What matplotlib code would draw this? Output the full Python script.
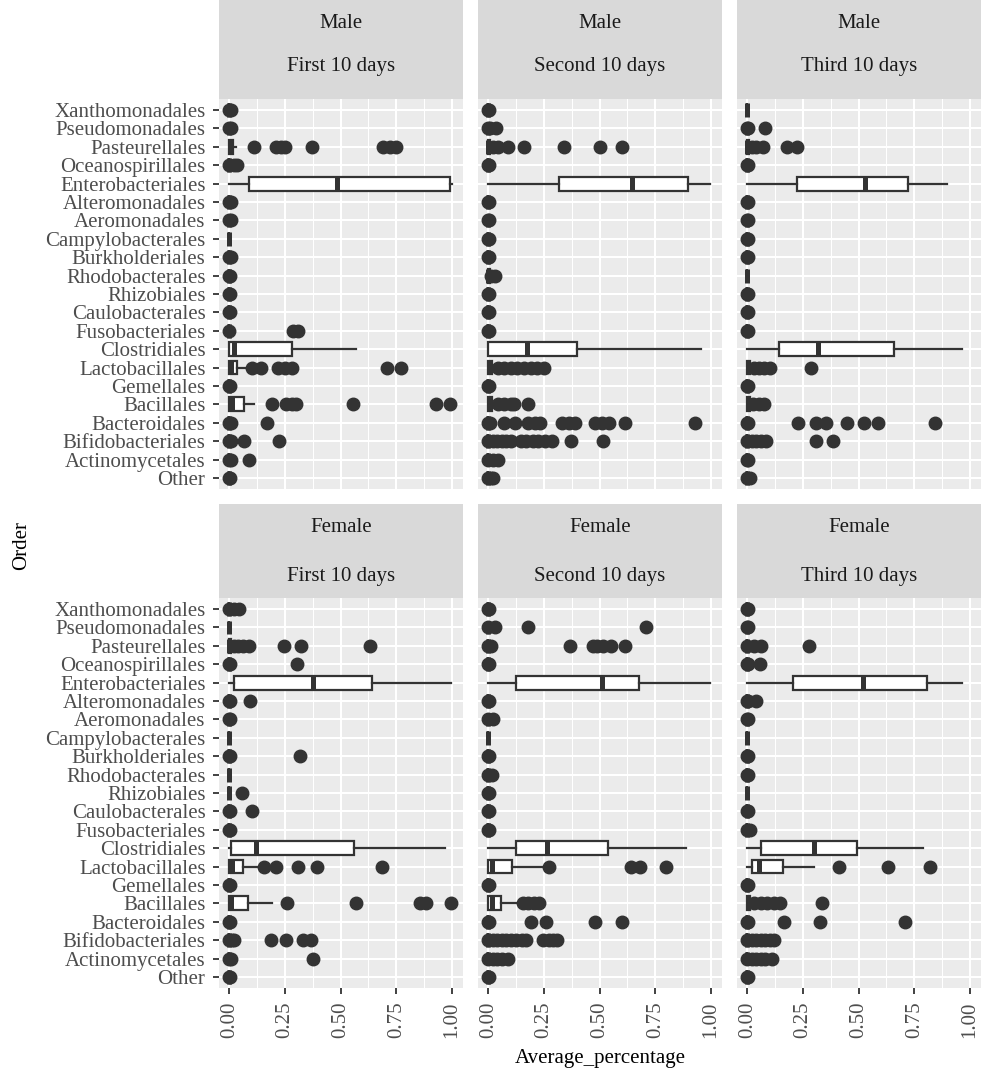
import matplotlib.pyplot as plt
from matplotlib.ticker import MultipleLocator

plt.rcParams['font.family'] = ['Liberation Serif', 'DejaVu Serif']

orders = ['Xanthomonadales', 'Pseudomonadales', 'Pasteurellales', 'Oceanospirillales',
          'Enterobacteriales', 'Alteromonadales', 'Aeromonadales', 'Campylobacterales',
          'Burkholderiales', 'Rhodobacterales', 'Rhizobiales', 'Caulobacterales',
          'Fusobacteriales', 'Clostridiales', 'Lactobacillales', 'Gemellales',
          'Bacillales', 'Bacteroidales', 'Bifidobacteriales', 'Actinomycetales', 'Other']
sexes = ['Male', 'Female']
periods = ['First 10 days', 'Second 10 days', 'Third 10 days']
x_ticks = [0.0, 0.25, 0.5, 0.75, 1.0]

# one row per order: (q1, median, q3, whisker low, whisker high, outliers)
male_first = [
    (0, 0, 0, 0, 0, [0.0, 0.005]),
    (0, 0, 0, 0, 0, [0.0, 0.005]),
    (0, 0.002, 0.015, 0, 0.03, [0.11, 0.21, 0.23, 0.25, 0.37, 0.69, 0.72, 0.75]),
    (0, 0, 0, 0, 0, [0.0, 0.02, 0.035]),
    (0.09, 0.485, 0.99, 0, 1.0, []),
    (0, 0, 0, 0, 0, [0.0, 0.005]),
    (0, 0, 0, 0, 0, [0.0, 0.005]),
    (0, 0, 0, 0, 0, []),
    (0, 0, 0, 0, 0, [0.0, 0.008]),
    (0, 0, 0, 0, 0, [0.0, 0.003]),
    (0, 0, 0, 0, 0, [0.0, 0.003]),
    (0, 0, 0, 0, 0, [0.0, 0.004]),
    (0, 0, 0, 0, 0, [0.0, 0.285, 0.31]),
    (0, 0.02, 0.28, 0, 0.57, []),
    (0, 0.005, 0.035, 0, 0.07, [0.10, 0.14, 0.22, 0.25, 0.28, 0.71, 0.77]),
    (0, 0, 0, 0, 0, [0.0, 0.003]),
    (0, 0.01, 0.065, 0, 0.11, [0.19, 0.255, 0.28, 0.30, 0.555, 0.93, 0.99]),
    (0, 0, 0, 0, 0, [0.0, 0.005, 0.17]),
    (0, 0, 0, 0, 0, [0.0, 0.005, 0.065, 0.225]),
    (0, 0, 0, 0, 0, [0.0, 0.005, 0.09]),
    (0, 0, 0, 0, 0, [0.0, 0.003]),
]
male_second = [
    (0, 0, 0, 0, 0, [0.0, 0.004]),
    (0, 0, 0, 0, 0, [0.0, 0.005, 0.035]),
    (0, 0, 0.005, 0, 0.01, [0.02, 0.045, 0.09, 0.16, 0.34, 0.50, 0.60]),
    (0, 0, 0, 0, 0, [0.0, 0.004]),
    (0.318, 0.646, 0.897, 0, 0.995, []),
    (0, 0, 0, 0, 0, [0.0, 0.004]),
    (0, 0, 0, 0, 0, [0.0, 0.004]),
    (0, 0, 0, 0, 0, [0.0, 0.004]),
    (0, 0, 0, 0, 0, [0.0, 0.004]),
    (0, 0, 0.005, 0, 0.005, [0.01, 0.03]),
    (0, 0, 0, 0, 0, [0.0, 0.004]),
    (0, 0, 0, 0, 0, [0.0, 0.004]),
    (0, 0, 0, 0, 0, [0.0, 0.004]),
    (0, 0.172, 0.40, 0, 0.957, []),
    (0, 0.003, 0.018, 0, 0.03, [0.045, 0.07, 0.10, 0.13, 0.16, 0.19, 0.22, 0.25]),
    (0, 0, 0, 0, 0, [0.0, 0.004]),
    (0, 0.002, 0.015, 0, 0.03, [0.045, 0.07, 0.10, 0.115, 0.177]),
    (0, 0, 0, 0, 0, [0.0, 0.005, 0.07, 0.12, 0.18, 0.21, 0.23, 0.33, 0.36, 0.39,
                     0.48, 0.51, 0.54, 0.615, 0.93]),
    (0, 0, 0, 0, 0, [0.0, 0.02, 0.04, 0.06, 0.08, 0.10, 0.146, 0.17, 0.20, 0.225,
                     0.254, 0.285, 0.37, 0.515]),
    (0, 0, 0, 0, 0, [0.0, 0.02, 0.045]),
    (0, 0, 0, 0, 0, [0.0, 0.01, 0.02]),
]
male_third = [
    (0, 0, 0, 0, 0, []),
    (0, 0, 0, 0, 0, [0.0, 0.004, 0.08]),
    (0, 0, 0.005, 0, 0.01, [0.02, 0.04, 0.07, 0.18, 0.225]),
    (0, 0, 0, 0, 0, [0.0, 0.004]),
    (0.223, 0.53, 0.72, 0, 0.895, []),
    (0, 0, 0, 0, 0, [0.0, 0.004]),
    (0, 0, 0, 0, 0, [0.0, 0.004]),
    (0, 0, 0, 0, 0, [0.0, 0.004]),
    (0, 0, 0, 0, 0, [0.0, 0.004]),
    (0, 0, 0, 0, 0, []),
    (0, 0, 0, 0, 0, [0.0, 0.004]),
    (0, 0, 0, 0, 0, [0.0, 0.004]),
    (0, 0, 0, 0, 0, [0.0, 0.004]),
    (0.143, 0.318, 0.658, 0, 0.966, []),
    (0, 0.002, 0.012, 0, 0.02, [0.03, 0.05, 0.075, 0.10, 0.285]),
    (0, 0, 0, 0, 0, [0.0, 0.004]),
    (0, 0.002, 0.01, 0, 0.015, [0.025, 0.05, 0.075]),
    (0, 0, 0, 0, 0, [0.0, 0.004, 0.226, 0.31, 0.354, 0.446, 0.526, 0.588, 0.843]),
    (0, 0, 0, 0, 0, [0.0, 0.02, 0.04, 0.06, 0.085, 0.31, 0.385]),
    (0, 0, 0, 0, 0, [0.0, 0.004]),
    (0, 0, 0, 0, 0, [0.0, 0.01]),
]
female_first = [
    (0, 0, 0, 0, 0, [0.0, 0.02, 0.045]),
    (0, 0, 0, 0, 0, []),
    (0, 0, 0.005, 0, 0.01, [0.02, 0.04, 0.06, 0.09, 0.247, 0.322, 0.634]),
    (0, 0, 0, 0, 0, [0.0, 0.004, 0.304]),
    (0.02, 0.375, 0.64, 0, 0.997, []),
    (0, 0, 0, 0, 0, [0.0, 0.004, 0.094]),
    (0, 0, 0, 0, 0, [0.0, 0.004]),
    (0, 0, 0, 0, 0, []),
    (0, 0, 0, 0, 0, [0.0, 0.004, 0.319]),
    (0, 0, 0, 0, 0, []),
    (0, 0, 0, 0, 0, [0.057]),
    (0, 0, 0, 0, 0, [0.0, 0.004, 0.10]),
    (0, 0, 0, 0, 0, [0.0, 0.004]),
    (0.005, 0.12, 0.562, 0, 0.967, []),
    (0, 0.01, 0.063, 0, 0.135, [0.155, 0.21, 0.307, 0.394, 0.687]),
    (0, 0, 0, 0, 0, [0.0, 0.004]),
    (0, 0.005, 0.082, 0, 0.19, [0.258, 0.567, 0.855, 0.885, 0.997]),
    (0, 0, 0, 0, 0, [0.0, 0.004]),
    (0, 0, 0, 0, 0, [0.0, 0.01, 0.02, 0.187, 0.252, 0.33, 0.367]),
    (0, 0, 0, 0, 0, [0.0, 0.005, 0.375]),
    (0, 0, 0, 0, 0, [0.0, 0.004]),
]
female_second = [
    (0, 0, 0, 0, 0, [0.0, 0.004]),
    (0, 0, 0, 0, 0, [0.0, 0.03, 0.18, 0.708]),
    (0, 0, 0, 0, 0, [0.0, 0.01, 0.366, 0.47, 0.49, 0.515, 0.55, 0.615]),
    (0, 0, 0, 0, 0, [0.0, 0.004]),
    (0.126, 0.512, 0.677, 0, 0.995, []),
    (0, 0, 0, 0, 0, [0.0, 0.004]),
    (0, 0, 0, 0, 0, [0.0, 0.02]),
    (0, 0, 0, 0, 0, []),
    (0, 0, 0, 0, 0, [0.0, 0.004]),
    (0, 0, 0, 0, 0, [0.0, 0.015]),
    (0, 0, 0, 0, 0, [0.0, 0.004]),
    (0, 0, 0, 0, 0, [0.0, 0.004]),
    (0, 0, 0, 0, 0, [0.0, 0.004]),
    (0.126, 0.262, 0.538, 0, 0.888, []),
    (0, 0.015, 0.105, 0, 0.25, [0.27, 0.64, 0.68, 0.797]),
    (0, 0, 0, 0, 0, [0.0, 0.004]),
    (0, 0.015, 0.057, 0, 0.146, [0.154, 0.18, 0.205, 0.227]),
    (0, 0, 0, 0, 0, [0.0, 0.004, 0.19, 0.258, 0.477, 0.60]),
    (0, 0, 0, 0, 0, [0.0, 0.02, 0.04, 0.06, 0.08, 0.10, 0.125, 0.15, 0.17,
                     0.246, 0.27, 0.29, 0.308]),
    (0, 0, 0, 0, 0, [0.0, 0.02, 0.04, 0.06, 0.09]),
    (0, 0, 0, 0, 0, [0.0, 0.004]),
]
female_third = [
    (0, 0, 0, 0, 0, [0.0, 0.004]),
    (0, 0, 0, 0, 0, [0.0, 0.004]),
    (0, 0, 0, 0, 0, [0.0, 0.03, 0.06, 0.277]),
    (0, 0, 0, 0, 0, [0.0, 0.004, 0.058]),
    (0.205, 0.52, 0.808, 0, 0.966, []),
    (0, 0, 0, 0, 0, [0.0, 0.004, 0.04]),
    (0, 0, 0, 0, 0, [0.0, 0.004]),
    (0, 0, 0, 0, 0, []),
    (0, 0, 0, 0, 0, [0.0, 0.004]),
    (0, 0, 0, 0, 0, [0.0, 0.004]),
    (0, 0, 0, 0, 0, []),
    (0, 0, 0, 0, 0, [0.0, 0.004]),
    (0, 0, 0, 0, 0, [0.0, 0.01]),
    (0.062, 0.30, 0.492, 0, 0.788, []),
    (0.02, 0.05, 0.162, 0, 0.30, [0.412, 0.631, 0.82]),
    (0, 0, 0, 0, 0, [0.0, 0.004]),
    (0, 0.002, 0.01, 0, 0.015, [0.03, 0.06, 0.09, 0.12, 0.146, 0.334]),
    (0, 0, 0, 0, 0, [0.0, 0.004, 0.166, 0.326, 0.708]),
    (0, 0, 0, 0, 0, [0.0, 0.02, 0.04, 0.06, 0.08, 0.10, 0.12]),
    (0, 0, 0, 0, 0, [0.0, 0.02, 0.04, 0.06, 0.08, 0.11]),
    (0, 0, 0, 0, 0, [0.0, 0.004]),
]
panels = [[male_first, male_second, male_third],
          [female_first, female_second, female_third]]

W, H = 998, 1070
col_x = [219, 478, 737]
panel_w = 244
# strip top, panel top, panel bottom (pixels from the top)
row_y = [(0, 99, 489), (504, 598, 988)]
# pixel centres of the two strip lines
strip_text_y = [(23, 66), (528, 576)]

dark = '#333333'
fig = plt.figure(figsize=(W / 100, H / 100), dpi=100)


def rect(x0, y0, x1, y1):
    return [x0 / W, 1 - y1 / H, (x1 - x0) / W, (y1 - y0) / H]


for r, sex in enumerate(sexes):
    st, pt, pb = row_y[r]
    for c, period in enumerate(periods):
        x0 = col_x[c]
        ax = fig.add_axes(rect(x0, pt, x0 + panel_w, pb))
        ax.set_facecolor('#EBEBEB')
        for s in ax.spines.values():
            s.set_visible(False)

        stats = [dict(q1=q1, med=med, q3=q3, whislo=lo, whishi=hi, fliers=fl)
                 for q1, med, q3, lo, hi, fl in panels[r][c]]
        positions = list(range(len(orders), 0, -1))
        ax.bxp(stats, positions=positions, widths=0.75, orientation='horizontal',
               patch_artist=True, showcaps=False, manage_ticks=False, zorder=3,
               boxprops=dict(facecolor='white', edgecolor=dark, linewidth=1.6),
               whiskerprops=dict(color=dark, linewidth=1.6),
               medianprops=dict(color=dark, linewidth=3.6, solid_capstyle='butt'),
               flierprops=dict(marker='o', markerfacecolor=dark, markeredgecolor=dark,
                               markersize=9))

        ax.set_xlim(-0.047, 1.05)
        ax.set_ylim(0.4, len(orders) + 0.6)
        ax.set_xticks(x_ticks)
        ax.set_xticklabels([f'{v:.2f}' for v in x_ticks], rotation=90)
        ax.xaxis.set_minor_locator(MultipleLocator(0.125))
        ax.set_yticks(positions)
        ax.set_yticklabels(orders)
        ax.set_axisbelow(True)
        ax.grid(which='major', color='white', linewidth=1.5)
        ax.grid(which='minor', axis='x', color='white', linewidth=0.75)
        ax.tick_params(which='major', length=4.3, width=1.3, color=dark, labelsize=15,
                       labelcolor='#4D4D4D', pad=5.5)
        ax.tick_params(which='minor', length=0)
        if r == 0:
            ax.tick_params(axis='x', length=0, labelbottom=False)
        if c > 0:
            ax.tick_params(axis='y', length=0, labelleft=False)

        sax = fig.add_axes(rect(x0, st, x0 + panel_w, pt))
        sax.set_facecolor('#D9D9D9')
        sax.set_xticks([])
        sax.set_yticks([])
        for s in sax.spines.values():
            s.set_visible(False)
        y_sex, y_period = strip_text_y[r]
        fig.text((x0 + panel_w / 2) / W, 1 - y_sex / H, sex, ha='center', va='center',
                 fontsize=15, color='#1A1A1A')
        fig.text((x0 + panel_w / 2) / W, 1 - y_period / H, period, ha='center', va='center',
                 fontsize=15, color='#1A1A1A')

fig.text(22 / W, 1 - 545 / H, 'Order', rotation=90, ha='center', va='center', fontsize=15)
fig.text(600 / W, 1 - 1058 / H, 'Average_percentage', ha='center', va='center', fontsize=15)

fig.savefig('out.png', dpi=100)
